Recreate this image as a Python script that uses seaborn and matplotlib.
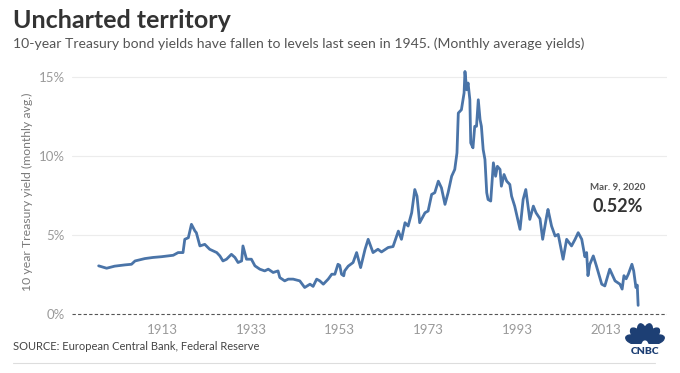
import math
import matplotlib
matplotlib.use("Agg")
import matplotlib.pyplot as plt
from matplotlib.lines import Line2D
from matplotlib.patches import Ellipse
import seaborn as sns

# monthly-average 10y yields (decimal year, %)
years = [1898.7, 1900.5, 1902.3, 1904.6, 1906.1, 1906.9, 1909.1, 1910.9, 1912.9, 1915.5,
         1916.6, 1917.7, 1918.1, 1918.9, 1919.6, 1920.4, 1920.7, 1921.5, 1922.6, 1923.7,
         1925.3, 1926.0, 1926.7, 1927.5, 1928.6, 1929.4, 1930.1, 1930.9, 1931.2, 1932.0,
         1933.1, 1933.9, 1935.0, 1936.1, 1936.9, 1938.0, 1939.1, 1939.5, 1940.6, 1941.4,
         1942.5, 1944.0, 1945.1, 1946.3, 1947.0, 1947.8, 1948.5, 1949.3, 1950.4, 1951.2,
         1951.9, 1952.6, 1953.0, 1953.4, 1953.9, 1954.1, 1954.9, 1956.0, 1956.8, 1957.7,
         1958.7, 1959.4, 1960.5, 1961.6, 1962.4, 1963.9, 1965.0, 1966.2, 1966.9, 1967.7,
         1968.4, 1969.2, 1969.9, 1970.4, 1971.0, 1972.2, 1972.9, 1973.7, 1974.4, 1975.2,
         1975.9, 1976.7, 1977.4, 1978.2, 1978.9, 1979.4, 1979.7, 1980.4, 1981.0, 1981.2,
         1981.6, 1981.9, 1982.3, 1982.5, 1983.0, 1983.4, 1983.8, 1984.2, 1984.6, 1984.9,
         1985.3, 1985.7, 1986.1, 1986.4, 1987.0, 1987.6, 1988.1, 1988.5, 1989.1, 1989.4,
         1990.0, 1990.6, 1991.3, 1991.7, 1992.4, 1993.6, 1994.3, 1994.9, 1995.8, 1996.6,
         1997.2, 1998.1, 1998.7, 1999.6, 1999.9, 2000.7, 2001.5, 2002.2, 2003.3, 2004.1,
         2005.2, 2006.0, 2006.7, 2007.5, 2008.2, 2008.6, 2008.9, 2009.3, 2010.1, 2010.8,
         2012.0, 2012.7, 2013.8, 2015.0, 2016.1, 2016.6, 2017.0, 2017.5, 2018.0, 2018.8,
         2019.2, 2019.7, 2020.0, 2020.2]
yields = [3.02, 2.87, 3.00, 3.08, 3.12, 3.33, 3.48, 3.55, 3.60, 3.69,
          3.86, 3.86, 4.70, 4.80, 5.65, 5.22, 5.12, 4.28, 4.38, 4.07,
          3.86, 3.65, 3.33, 3.44, 3.75, 3.55, 3.23, 3.33, 4.28, 3.44,
          3.44, 3.02, 2.81, 2.70, 2.81, 2.60, 2.70, 2.28, 2.07, 2.18,
          2.18, 2.07, 1.65, 1.86, 1.72, 2.18, 2.07, 1.86, 2.18, 2.49,
          2.49, 3.12, 3.05, 2.49, 2.39, 2.70, 3.00, 3.23, 3.86, 2.91,
          4.07, 4.70, 3.86, 4.07, 3.90, 4.18, 4.24, 5.22, 4.70, 5.75,
          5.54, 6.38, 7.85, 7.43, 5.75, 6.38, 6.49, 7.54, 7.65, 8.38,
          7.96, 6.91, 7.65, 8.69, 9.12, 10.17, 12.69, 12.90, 13.96, 15.32,
          14.16, 14.59, 13.53, 10.80, 10.49, 11.85, 11.85, 13.53, 12.27, 11.85,
          10.38, 9.75, 7.65, 7.22, 7.12, 9.54, 8.69, 9.32, 9.12, 8.06,
          8.80, 8.38, 8.17, 7.43, 6.80, 5.33, 7.22, 7.85, 5.96, 6.80,
          6.38, 6.00, 4.70, 6.17, 6.59, 5.54, 4.91, 5.01, 3.44, 4.70,
          4.28, 4.70, 5.12, 4.70, 3.60, 3.86, 2.40, 3.10, 3.65, 3.02,
          1.86, 1.75, 2.81, 2.07, 1.86, 1.55, 2.40, 2.20, 2.50, 3.12,
          2.70, 1.65, 1.80, 0.52]

ytick_vals = [0, 5, 10, 15]
ytick_labels = ["0%", "5%", "10%", "15%"]
xtick_vals = [1913, 1933, 1953, 1973, 1993, 2013]

sns.set_style("white")
plt.rcParams["font.family"] = ["Lato", "DejaVu Sans"]

fig = plt.figure(figsize=(6.8, 3.73), dpi=100)
ax = fig.add_axes([72 / 680, 1 - 318 / 373, 595 / 680, 253 / 373])

sns.lineplot(x=years, y=yields, ax=ax, color="#4a74a8", linewidth=2.0)

ax.set_xlim(1892.7, 2026.7)
ax.set_ylim(-0.28, 15.73)
ax.set_yticks(ytick_vals, ytick_labels)
ax.set_xticks(xtick_vals, [str(y) for y in xtick_vals])
ax.tick_params(axis="both", length=0, labelsize=9.5, labelcolor="#9a9a9a")
ax.tick_params(axis="y", pad=5)
ax.tick_params(axis="x", pad=4)
for v in ytick_vals[1:]:
    ax.axhline(v, color="#ececec", linewidth=0.8, zorder=0)
ax.axhline(0, color="#555555", linewidth=0.8, linestyle=(0, (3, 2)), zorder=1)
sns.despine(ax=ax, left=True, bottom=True)
ax.set_ylabel("10 year Treasury yield (monthly avg.)", fontsize=8.8, color="#7a7a7a", labelpad=4)

# annotation for the last point
ax.text(2015.6, 8.0, "Mar. 9, 2020", ha="center", va="center",
        fontsize=7, fontweight="bold", color="#555555")
ax.text(2015.6, 6.75, "0.52%", ha="center", va="center",
        fontsize=13, fontweight="bold", color="#333333")

fig.text(13 / 680, 1 - 20 / 373, "Uncharted territory", fontsize=18, fontweight="bold",
         color="#333333", va="center")
fig.text(13 / 680, 1 - 44 / 373,
         "10-year Treasury bond yields have fallen to levels last seen in 1945. (Monthly average yields)",
         fontsize=10.1, color="#555555", va="center")
fig.text(13 / 680, 1 - 347 / 373, "SOURCE: European Central Bank, Federal Reserve",
         fontsize=8, color="#444444", va="center")
fig.add_artist(Line2D([13 / 680, 655 / 680], [1 - 363 / 373] * 2,
                      transform=fig.transFigure, color="#dddddd", linewidth=0.8))

# small peacock mark
logo = fig.add_axes([624 / 680, 1 - 345 / 373, 42 / 680, 26 / 373])
logo.set_xlim(-1.15, 1.15)
logo.set_ylim(-0.05, 1.3)
logo.set_aspect("equal")
logo.axis("off")
for ang in [162, 133, 104, 76, 47, 18]:
    r = 0.65
    cx, cy = r * math.cos(math.radians(ang)), r * math.sin(math.radians(ang))
    logo.add_patch(Ellipse((cx, cy), 0.9, 0.46, angle=ang, color="#1d3f74"))
fig.text(645 / 680, 1 - 351 / 373, "CNBC", fontsize=7.5, fontweight="heavy",
         color="#1d3f74", ha="center", va="center")

fig.savefig("out.png", dpi=100)
